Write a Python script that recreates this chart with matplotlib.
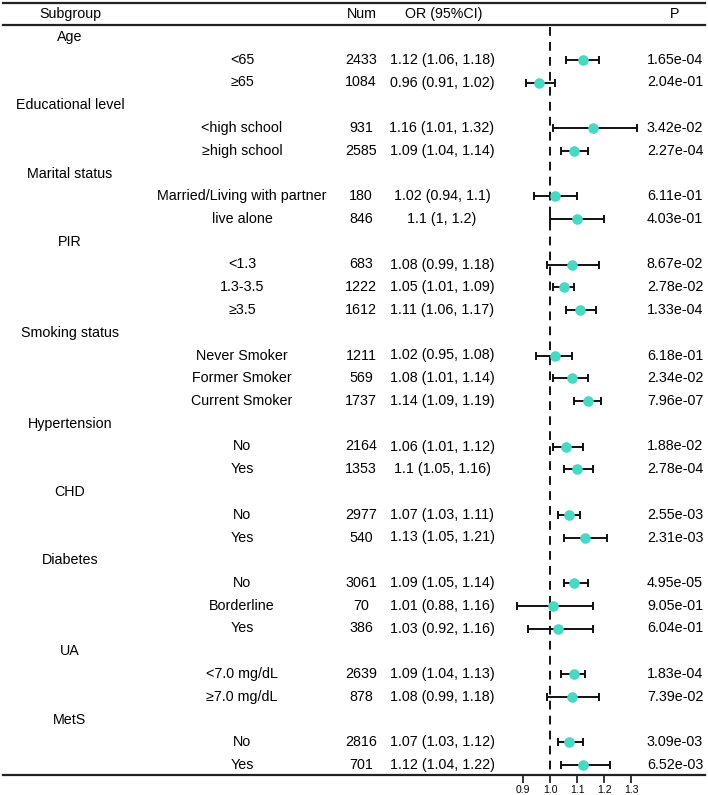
import matplotlib.pyplot as plt
import numpy as np

plt.rcParams["font.family"] = ["Liberation Sans", "DejaVu Sans"]

# --- data -----------------------------------------------------------------
GROUPS = ["Age", "Educational level", "Marital status", "PIR", "Smoking status",
          "Hypertension", "CHD", "Diabetes", "UA", "MetS"]
GROUP_SIZES = [2, 2, 2, 3, 3, 2, 2, 3, 2, 2]
SUBGROUPS = ["<65", "≥65",
             "<high school", "≥high school",
             "Married/Living with partner", "live alone",
             "<1.3", "1.3-3.5", "≥3.5",
             "Never Smoker", "Former Smoker", "Current Smoker",
             "No", "Yes",
             "No", "Yes",
             "No", "Borderline", "Yes",
             "<7.0 mg/dL", "≥7.0 mg/dL",
             "No", "Yes"]
NUM = [2433, 1084, 931, 2585, 180, 846, 683, 1222, 1612, 1211, 569, 1737,
       2164, 1353, 2977, 540, 3061, 70, 386, 2639, 878, 2816, 701]
OR = [1.12, 0.96, 1.16, 1.09, 1.02, 1.1, 1.08, 1.05, 1.11, 1.02, 1.08, 1.14,
      1.06, 1.1, 1.07, 1.13, 1.09, 1.01, 1.03, 1.09, 1.08, 1.07, 1.12]
LOWER = [1.06, 0.91, 1.01, 1.04, 0.94, 1.0, 0.99, 1.01, 1.06, 0.95, 1.01, 1.09,
         1.01, 1.05, 1.03, 1.05, 1.05, 0.88, 0.92, 1.04, 0.99, 1.03, 1.04]
UPPER = [1.18, 1.02, 1.32, 1.14, 1.1, 1.2, 1.18, 1.09, 1.17, 1.08, 1.14, 1.19,
         1.12, 1.16, 1.11, 1.21, 1.14, 1.16, 1.16, 1.13, 1.18, 1.12, 1.22]
PVAL = [1.65e-04, 2.04e-01, 3.42e-02, 2.27e-04, 6.11e-01, 4.03e-01, 8.67e-02,
        2.78e-02, 1.33e-04, 6.18e-01, 2.34e-02, 7.96e-07, 1.88e-02, 2.78e-04,
        2.55e-03, 2.31e-03, 4.95e-05, 9.05e-01, 6.04e-01, 1.83e-04, 7.39e-02,
        3.09e-03, 6.52e-03]
XTICKS = [0.9, 1.0, 1.1, 1.2, 1.3]

# --- layout (pixels) ------------------------------------------------------
W, H = 708, 795
ROW0, ROW_STEP = 37, 22.75
Y_HEAD, Y_TOP, Y_HLINE, Y_BOT = 14, 3, 25, 775
X_GROUP, X_SUB, X_NUM, X_OR, X_P = 70, 242, 361, 442, 675
PX_ONE, PX_PER_UNIT = 550, 271          # OR=1.0 at x=550
FS = 10.3
MARKER_COLOR = "#48D8C4"

fig = plt.figure(figsize=(W / 100, H / 100), dpi=100)
ax = fig.add_axes([0, 0, 1, 1])
x0 = 1.0 - PX_ONE / PX_PER_UNIT
x1 = 1.0 + (W - PX_ONE) / PX_PER_UNIT
ax.set_xlim(x0, x1)
ax.set_ylim(H, 0)

tr = ax.get_yaxis_transform()  # x in axes fraction, y in data


def fx(px):
    return px / W


def cell(px, y, s):
    ax.text(fx(px), y, s, transform=tr, ha="center", va="center", fontsize=FS)


# header
cell(X_GROUP, Y_HEAD, "Subgroup")
cell(X_NUM + 1, Y_HEAD, "Num")
cell(X_OR + 2, Y_HEAD, "OR (95%CI)")
cell(X_P, Y_HEAD, "P")

# rows
row = 0
k = 0
for g, n in zip(GROUPS, GROUP_SIZES):
    cell(X_GROUP, ROW0 + row * ROW_STEP, g)
    row += 1
    for _ in range(n):
        y = ROW0 + row * ROW_STEP
        cell(X_SUB, y, SUBGROUPS[k])
        cell(X_NUM, y, str(NUM[k]))
        cell(X_OR, y, f"{OR[k]:g} ({LOWER[k]:g}, {UPPER[k]:g})")
        cell(X_P, y, f"{PVAL[k]:.2e}")
        ax.errorbar(OR[k], y, xerr=[[OR[k] - LOWER[k]], [UPPER[k] - OR[k]]],
                    fmt="none", ecolor="#111111", elinewidth=1.4, capsize=2.8, capthick=1.4,
                    zorder=3)
        ax.plot(OR[k], y, "o", color=MARKER_COLOR, markersize=6.6, zorder=4)
        row += 1
        k += 1

# reference line
ax.plot([1.0, 1.0], [Y_HLINE + 2, Y_BOT], color="#111111", lw=1.4,
        linestyle=(0, (4.5, 3.2)), zorder=2)

# table rules
xa, xb = x0 + 3 / PX_PER_UNIT, x1 - 3 / PX_PER_UNIT
ax.plot([xa, xb], [Y_TOP, Y_TOP], color="#222222", lw=1.6)
ax.plot([xa, xb], [Y_HLINE, Y_HLINE], color="#222222", lw=1.6)

# bottom axis
for s in ("top", "left", "right"):
    ax.spines[s].set_visible(False)
ax.spines["bottom"].set_position(("data", Y_BOT))
ax.spines["bottom"].set_bounds(xa, xb)
ax.spines["bottom"].set_linewidth(1.6)
ax.spines["bottom"].set_color("#222222")
ax.set_xticks(XTICKS)
ax.set_xticklabels([f"{t:.1f}" for t in XTICKS], fontsize=7.5)
ax.tick_params(axis="x", direction="out", length=6, width=1.1, pad=1)
ax.set_yticks([])
ax.patch.set_visible(False)

fig.savefig("out.png", dpi=100)
